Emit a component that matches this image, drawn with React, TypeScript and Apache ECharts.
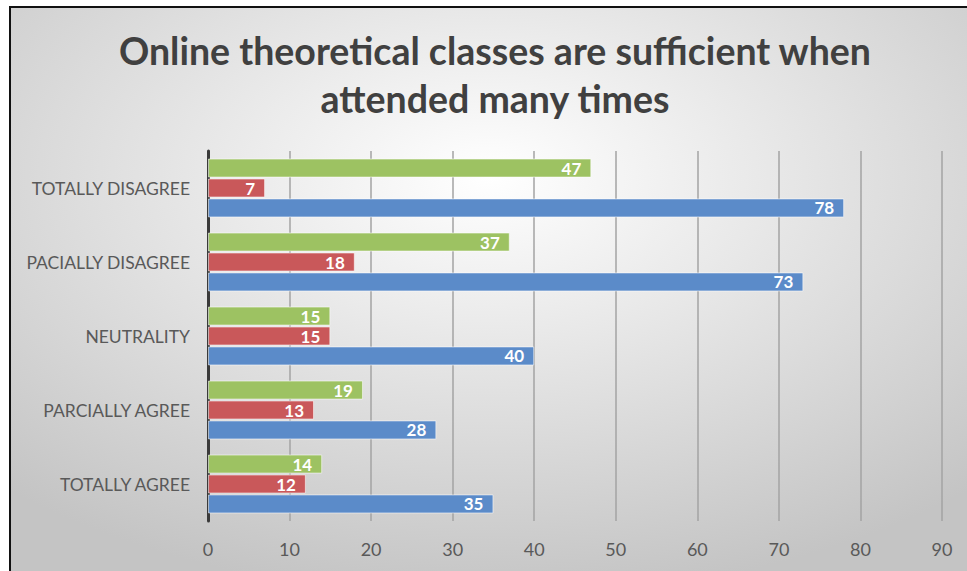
import React, { useEffect, useRef } from "react";
import * as echarts from "echarts";

const categories = [
  "TOTALLY AGREE",
  "PARCIALLY AGREE",
  "NEUTRALITY",
  "PACIALLY DISAGREE",
  "TOTALLY DISAGREE",
];
const blueValues = [35, 28, 40, 73, 78];
const redValues = [12, 13, 15, 18, 7];
const greenValues = [14, 19, 15, 37, 47];
const titleLines = [
  "Online theoretical classes are sufficient when",
  "attended many times",
];

export default function App() {
  const ref = useRef<HTMLDivElement>(null);
  useEffect(() => {
    if (!ref.current) return;
    const chart = echarts.init(ref.current, undefined, { renderer: "svg" });
    const font = "Lato";
    const label = {
      show: true,
      position: "insideRight",
      distance: 10,
      color: "#ffffff",
      fontWeight: "bold",
      fontSize: 17,
      fontFamily: font,
    };
    const mk = (name: string, data: number[], color: string) => ({
      name,
      type: "bar",
      data,
      barWidth: 19,
      barGap: "5%",
      itemStyle: {
        color,
        borderColor: "rgba(255,255,255,0.55)",
        borderWidth: 1,
      },
      label,
    });
    chart.setOption({
      animation: false,
      backgroundColor: {
        type: "radial",
        x: 0.5,
        y: 0.3,
        r: 0.75,
        colorStops: [
          { offset: 0, color: "#ffffff" },
          { offset: 1, color: "#c4c4c4" },
        ],
      },
      title: {
        text: titleLines.join("\n"),
        left: 484,
        top: 18,
        padding: 0,
        textAlign: "center",
        textStyle: {
          fontFamily: font,
          fontWeight: "bold",
          fontSize: 37.5,
          lineHeight: 48,
          color: "#404040",
        },
      },
      grid: { left: 197, right: 25, top: 143, bottom: 50, containLabel: false },
      xAxis: {
        type: "value",
        min: 0,
        max: 90,
        interval: 10,
        axisLine: { show: false },
        axisTick: { show: false },
        axisLabel: {
          margin: 19,
          color: "#595959",
          fontSize: 18,
          fontFamily: font,
        },
        splitLine: { show: true, lineStyle: { color: "#a3a3a3", width: 1.5 } },
      },
      yAxis: {
        type: "category",
        data: categories,
        axisLine: { show: true, lineStyle: { color: "#3a3a3a", width: 3 } },
        axisTick: { show: false },
        axisLabel: {
          margin: 18,
          color: "#595959",
          fontSize: 17.5,
          fontFamily: font,
        },
      },
      series: [
        mk("Series 3", greenValues, "#9dc262"),
        mk("Series 2", redValues, "#c9585a"),
        mk("Series 1", blueValues, "#5b8bc9"),
      ],
    });
    return () => chart.dispose();
  }, []);
  return (
    <div
      style={{
        position: "fixed",
        left: 0,
        top: 0,
        width: 967,
        height: 571,
        background: "#ffffff",
        overflow: "hidden",
      }}
    >
      <div
        style={{
          position: "absolute",
          left: 9,
          top: 6,
          width: 958,
          height: 565,
          borderTop: "2px solid #111",
          borderLeft: "2px solid #111",
          boxSizing: "border-box",
        }}
      >
        <div ref={ref} style={{ width: 956, height: 563 }} />
      </div>
    </div>
  );
}
